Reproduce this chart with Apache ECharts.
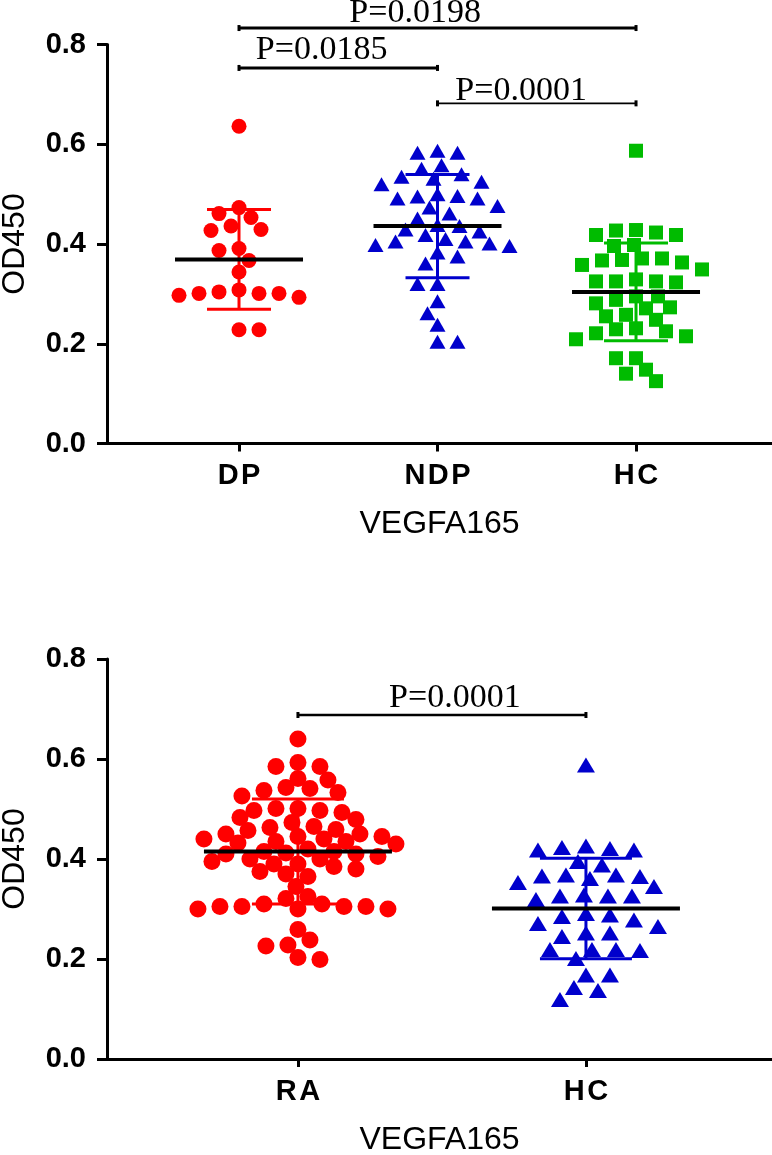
<!DOCTYPE html>
<html><head><meta charset="utf-8">
<script src="https://cdn.jsdelivr.net/npm/echarts@6.0.0/dist/echarts.min.js"></script>
<style>html,body{margin:0;padding:0;background:#fff}#c{width:772px;height:1155px}</style>
</head><body><div id="c"></div>
<script>
// ---------- data ----------
const topCategories = ['DP', 'NDP', 'HC'];
const topDP = [0.636, 0.461, 0.473, 0.453, 0.436, 0.427, 0.429, 0.391, 0.387, 0.367, 0.344,
  0.304, 0.301, 0.297, 0.293, 0.301, 0.301, 0.308, 0.228, 0.228];
const topNDP = [0.587, 0.583, 0.583, 0.558, 0.551, 0.540, 0.531, 0.525, 0.535, 0.520,
  0.500, 0.496, 0.491, 0.476, 0.491, 0.495, 0.473, 0.461, 0.451,
  0.436, 0.425, 0.429, 0.438, 0.398, 0.401, 0.410, 0.405, 0.405, 0.418, 0.396, 0.383,
  0.375, 0.361, 0.320, 0.320, 0.285, 0.261, 0.238, 0.204, 0.204];
const topHC = [0.587, 0.427, 0.418, 0.418, 0.423, 0.428, 0.398, 0.396,
  0.371, 0.367, 0.363, 0.368, 0.371, 0.349, 0.358,
  0.325, 0.325, 0.323, 0.325, 0.329, 0.295, 0.288, 0.295, 0.281, 0.271, 0.273,
  0.255, 0.248, 0.258, 0.229, 0.221, 0.209, 0.215, 0.225, 0.231,
  0.171, 0.171, 0.148, 0.140, 0.125];
const topMeans = [0.369, 0.436, 0.304];
const topSDs = [0.100, 0.1035, 0.098];
const topPLabels = ['P=0.0198', 'P=0.0185', 'P=0.0001'];
const topPPairs = [[0, 2], [0, 1], [1, 2]];

const bottomCategories = ['RA', 'HC'];
const bottomRA = [0.640, 0.585, 0.585, 0.593, 0.561, 0.558,
  0.543, 0.537, 0.526, 0.533, 0.541, 0.501, 0.497, 0.493, 0.497, 0.501,
  0.479, 0.473, 0.483, 0.463, 0.457, 0.465, 0.459,
  0.445, 0.440, 0.435, 0.432, 0.430, 0.435, 0.440, 0.445, 0.450, 0.450,
  0.415, 0.412, 0.410, 0.405, 0.400, 0.395, 0.390, 0.390, 0.400, 0.410, 0.415, 0.420,
  0.375, 0.370, 0.365, 0.380, 0.385, 0.345, 0.325, 0.321,
  0.305, 0.300, 0.305, 0.310, 0.300, 0.310, 0.300, 0.305, 0.305,
  0.259, 0.238, 0.226, 0.228, 0.199, 0.203];
const bottomHC = [0.588, 0.423, 0.418, 0.418, 0.421, 0.426, 0.395, 0.388,
  0.368, 0.365, 0.353, 0.345, 0.361, 0.366, 0.368,
  0.328, 0.326, 0.319, 0.326, 0.326, 0.288, 0.278, 0.271, 0.285, 0.291,
  0.252, 0.245, 0.252, 0.265, 0.217, 0.219, 0.219, 0.219, 0.201,
  0.168, 0.168, 0.143, 0.137, 0.119];
const bottomMeans = [0.415, 0.301];
const bottomSDs = [0.105, 0.1005];
const bottomPLabels = ['P=0.0001'];
const bottomPPairs = [[0, 1]];

const yTicks = [0, 0.2, 0.4, 0.6, 0.8];
const axisTitleX = 'VEGFA165';
const axisTitleY = 'OD450';

// ---------- layout / style (not data) ----------
const L = { left: 107, width: 665, top1: 44.5, h1: 399, top2: 659, h2: 400 };
const X1 = { min: 0.335, max: 3.685 };
const X2 = { min: 0.337, max: 2.646 };
const topBracketY = [0.833, 0.753, 0.682];
const topBracketLW = [3, 3, 1.8];
const topTextPos = [[1.887, 0.864], [1.416, 0.789], [2.421, 0.706]];
const bottomBracketY = [0.688];
const bottomBracketLW = [2.5];
const bottomTextPos = [[1.545, 0.722]];

const RED = '#FF0000', BLUE = '#0000CC', GREEN = '#00BB00';

// beeswarm layout: no two marks closer than diam; marks in the same row band
// (|dy| < dyMin) at least dxMin apart horizontally
function swarm(values, center, unitsPerPx, pxPerUnitY, diam, dxMin, dyMin, step) {
  const order = values.map((v, i) => i).sort((a, b) => values[b] - values[a]);
  const placed = [];
  const out = new Array(values.length);
  const clash = (p, dx, yp) => {
    const ddx = Math.abs(p[0] - dx), ddy = Math.abs(p[1] - yp);
    if (Math.hypot(ddx, ddy) < diam) return true;
    return ddy < dyMin && ddx < dxMin;
  };
  order.forEach((i, n) => {
    const yp = values[i] * pxPerUnitY;
    let chosen = 0;
    for (let k = 0; k < 300; k++) {
      const c = k === 0 ? [0] : (n % 2 ? [k * step, -k * step] : [-k * step, k * step]);
      let ok = null;
      for (const dx of c) {
        if (!placed.some(p => clash(p, dx, yp))) { ok = dx; break; }
      }
      if (ok !== null) { chosen = ok; break; }
    }
    placed.push([chosen, yp]);
    out[i] = [center + chosen * unitsPerPx, values[i]];
  });
  return out;
}

const u1 = (X1.max - X1.min) / L.width, py1 = L.h1 / 0.8;
const u2 = (X2.max - X2.min) / L.width, py2 = L.h2 / 0.8;

const FONT_SANS = 'Liberation Sans';

function xAxisCfg(idx, range, cats) {
  return {
    type: 'value', gridIndex: idx, min: range.min, max: range.max,
    splitLine: { show: false },
    axisLine: { show: true, onZero: false, lineStyle: { color: '#000', width: 3 } },
    axisTick: { show: true, length: 8, customValues: cats.map((c, i) => i + 1), lineStyle: { color: '#000', width: 3 } },
    axisLabel: {
      customValues: cats.map((c, i) => i + 1),
      formatter: v => (cats[Math.round(v) - 1] || '').split('').join('\u200A'),
      fontFamily: FONT_SANS, fontWeight: 'bold', fontSize: 29, color: '#000', margin: 18
    },
    name: axisTitleX, nameLocation: 'middle', nameGap: 65,
    nameTextStyle: { fontFamily: FONT_SANS, fontSize: 32, color: '#000' }
  };
}
function yAxisCfg(idx) {
  return {
    type: 'value', gridIndex: idx, min: 0, max: 0.8, interval: 0.2,
    splitLine: { show: false },
    axisLine: { show: true, lineStyle: { color: '#000', width: 3 } },
    axisTick: { show: true, length: 10, lineStyle: { color: '#000', width: 3 } },
    axisLabel: {
      customValues: yTicks,
      formatter: v => v.toFixed(1),
      fontFamily: FONT_SANS, fontWeight: 'bold', fontSize: 29, color: '#000', margin: 21
    },
    name: axisTitleY, nameLocation: 'middle', nameGap: 76, nameRotate: 90,
    nameTextStyle: { fontFamily: FONT_SANS, fontSize: 32, color: '#000' }
  };
}

function summarySeries(idx, means, sds, colors, capHW, meanHW) {
  return {
    type: 'custom', xAxisIndex: idx, yAxisIndex: idx, z: 5, clip: false, silent: true,
    data: means.map((m, i) => [i + 1, m, sds[i]]),
    renderItem: (params, api) => {
      const x = api.value(0), m = api.value(1), sd = api.value(2);
      const c = api.coord([x, m]);
      const t = api.coord([x, m + sd]);
      const b = api.coord([x, m - sd]);
      const col = colors[params.dataIndex];
      const ls = { stroke: col, lineWidth: 3 };
      return {
        type: 'group', children: [
          { type: 'line', shape: { x1: c[0], y1: t[1], x2: c[0], y2: b[1] }, style: ls },
          { type: 'line', shape: { x1: c[0] - capHW, y1: t[1], x2: c[0] + capHW, y2: t[1] }, style: ls },
          { type: 'line', shape: { x1: c[0] - capHW, y1: b[1], x2: c[0] + capHW, y2: b[1] }, style: ls },
          { type: 'line', shape: { x1: c[0] - meanHW, y1: c[1], x2: c[0] + meanHW, y2: c[1] }, style: { stroke: '#000', lineWidth: 4 } }
        ]
      };
    }
  };
}

function bracketSeries(idx, pairs, labels, ys, lws, textPos) {
  return {
    type: 'custom', xAxisIndex: idx, yAxisIndex: idx, z: 6, clip: false, silent: true,
    data: pairs.map((p, i) => [p[0] + 1, ys[i], p[1] + 1]),
    renderItem: (params, api) => {
      const i = params.dataIndex;
      const a = api.coord([api.value(0), api.value(1)]);
      const b = api.coord([api.value(2), api.value(1)]);
      const tp = api.coord(textPos[i]);
      const lw = lws[i];
      return {
        type: 'group', children: [
          { type: 'line', shape: { x1: a[0], y1: a[1], x2: b[0], y2: b[1] }, style: { stroke: '#000', lineWidth: lw } },
          { type: 'line', shape: { x1: a[0], y1: a[1] - 3, x2: a[0], y2: a[1] + 3 }, style: { stroke: '#000', lineWidth: 3 } },
          { type: 'line', shape: { x1: b[0], y1: b[1] - 3, x2: b[0], y2: b[1] + 3 }, style: { stroke: '#000', lineWidth: 3 } },
          { type: 'text', style: { text: labels[i], x: tp[0], y: tp[1], font: '34px "Liberation Serif"', fill: '#000',
            textAlign: 'center', textVerticalAlign: 'middle', align: 'center', verticalAlign: 'middle' } }
        ]
      };
    }
  };
}

function scatter(idx, values, center, u, py, diam, dxMin, dyMin, symbol, size, color) {
  return {
    type: 'scatter', xAxisIndex: idx, yAxisIndex: idx, z: 3, symbol, symbolSize: size,
    itemStyle: { color, opacity: 1 }, silent: true,
    data: swarm(values, center, u, py, diam, dxMin, dyMin, 2)
  };
}

const chart = echarts.init(document.getElementById('c'), null, { renderer: 'canvas' });
chart.setOption({
  animation: false,
  backgroundColor: '#fff',
  grid: [
    { left: L.left, top: L.top1, width: L.width, height: L.h1, containLabel: false, outerBoundsMode: 'none' },
    { left: L.left, top: L.top2, width: L.width, height: L.h2, containLabel: false, outerBoundsMode: 'none' }
  ],
  xAxis: [xAxisCfg(0, X1, topCategories), xAxisCfg(1, X2, bottomCategories)],
  yAxis: [yAxisCfg(0), yAxisCfg(1)],
  series: [
    scatter(0, topDP, 1, u1, py1, 15, 19, 9, 'circle', 15, RED),
    scatter(0, topNDP, 2, u1, py1, 15, 19, 9, 'triangle', [16, 14], BLUE),
    scatter(0, topHC, 3, u1, py1, 15, 19, 9, 'rect', 14, GREEN),
    summarySeries(0, topMeans, topSDs, [RED, BLUE, GREEN], 32, 64),
    bracketSeries(0, topPPairs, topPLabels, topBracketY, topBracketLW, topTextPos),
    scatter(1, bottomRA, 1, u2, py2, 15, 21, 7, 'circle', 17, RED),
    scatter(1, bottomHC, 2, u2, py2, 17, 24, 9, 'triangle', [18, 15], BLUE),
    summarySeries(1, bottomMeans, bottomSDs, [RED, BLUE], 46, 94),
    bracketSeries(1, bottomPPairs, bottomPLabels, bottomBracketY, bottomBracketLW, bottomTextPos)
  ]
});
</script>
</body></html>
